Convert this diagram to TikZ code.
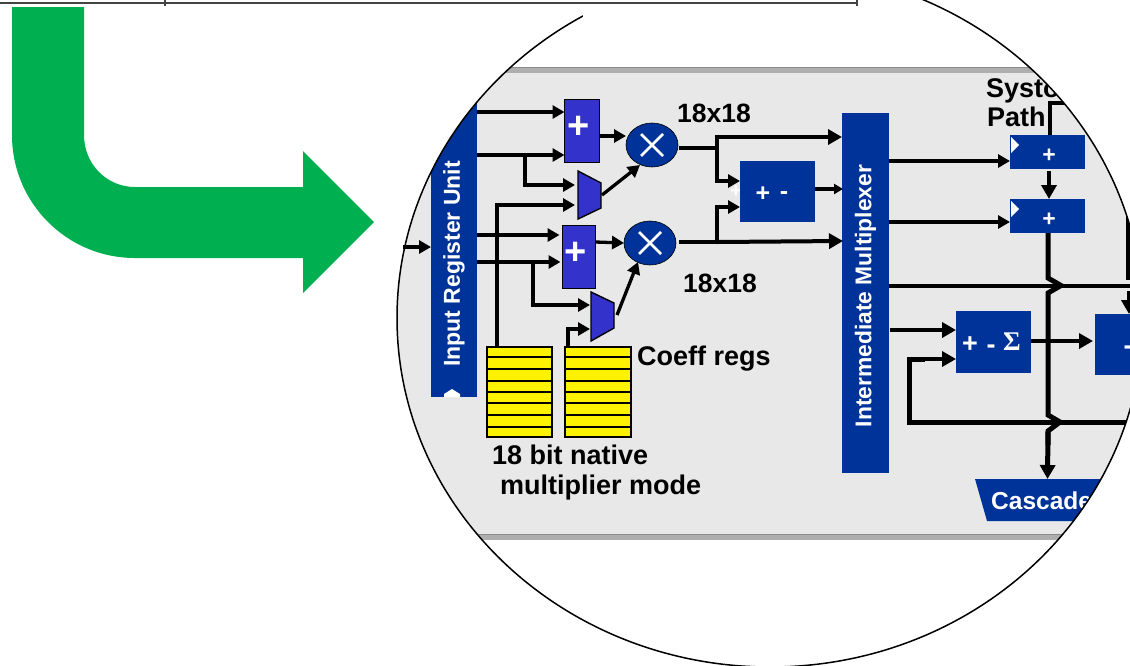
\documentclass[tikz,border=0pt]{standalone}
\usepackage{fontspec}
\setmainfont{Liberation Sans}
\newfontfamily\sigmafont{Liberation Serif}
\usetikzlibrary{arrows.meta,shapes.geometric,calc}
\definecolor{navy}{HTML}{003399}
\definecolor{addblue}{HTML}{3333CC}
\definecolor{regyellow}{HTML}{FFF200}
\definecolor{panelgray}{HTML}{E8E8E8}
\definecolor{bandgray}{HTML}{AEAEAE}
\definecolor{greenarrow}{HTML}{00B050}
\definecolor{topline}{HTML}{444444}
\newcommand{\fsz}[1]{\fontsize{#1}{#1}\selectfont\bfseries}
\tikzset{
  x=1pt,y=-1pt,
  box/.style={rectangle,anchor=north west,inner sep=0pt,outer sep=0pt,fill=navy,font=\fsz{18},text=white},
  addbox/.style={rectangle,anchor=north west,inner sep=0pt,outer sep=0pt,fill=addblue,draw=black,line width=1.6pt},
  pluslab/.style={anchor=center,inner sep=0pt,font=\fsz{38},text=white},
  oplab/.style={anchor=center,inner sep=0pt,font=\fsz{25},text=white},
  mulnode/.style={ellipse,inner sep=0pt,outer sep=0pt,fill=navy,draw=black,line width=0.6pt,minimum width=52pt,minimum height=44pt},
  trap/.style={fill=addblue,draw=black,line width=1.4pt,line join=miter},
  reg/.style={rectangle,anchor=north west,inner sep=0pt,outer sep=0pt,fill=regyellow,draw=black,line width=2pt},
  lab/.style={anchor=base west,inner sep=0pt,font=\fsz{27},text=black},
  vlab/.style={rotate=90,inner sep=0pt,font=\fsz{22.8},text=white},
  arr/.style={line width=3.3pt,-{Triangle[length=12pt,width=13pt]},line join=miter},
  arrb/.style={line width=4pt,-{Triangle[length=14pt,width=15pt]},line join=miter},
  wire/.style={line width=4pt,line join=miter},
  bus/.style={line width=5pt,line join=miter},
}
\begin{document}
\begin{tikzpicture}
\useasboundingbox (0,0) rectangle (1130,665);
% green bent arrow
\fill[greenarrow] (12,7) -- (84,7) -- (84,135) .. controls (84,163.7) and (106.3,187) .. (135,187) -- (303,187) -- (303,151) -- (374,222) -- (303,293) -- (303,258) -- (135,258) .. controls (67,258) and (12,203) .. (12,135) -- cycle;
% magnified circle
\begin{scope}
\clip (770,318) ellipse[x radius=373,y radius=349];
\fill[panelgray] (380,67) rectangle (1150,540);
\fill[bandgray] (380,67) rectangle (1150,73);
\draw[bandgray!80!black,line width=1pt] (380,67.5) -- (1150,67.5);
\fill[bandgray] (380,534) rectangle (1150,540);
\draw[bandgray!80!black,line width=1pt] (380,534.5) -- (1150,534.5);

% main blocks
\node[box,minimum width=46pt,minimum height=317pt] (iru) at (431,80) {};
\node[vlab,font=\fsz{23}] (irulab) at (454,264) {Input Register Unit};
\fill[white] (444,397) -- (444,394) -- (452,389) -- (460,394) -- (460,397) -- cycle;
\node[box,minimum width=47pt,minimum height=360pt] (imx) at (842,113) {};
\node[vlab] (imxlab) at (865.5,296) {Intermediate Multiplexer};

\node[anchor=center,inner sep=0pt,text=white,font=\fsz{20}] (ghost) at (736,192) {+};
\node[box,minimum width=75pt,minimum height=61pt] (addsub) at (740,161) {};
\node[oplab] (addsubp) at (763,194) {+};
\node[oplab] (addsubm) at (784,196) {-};

\node[addbox,minimum width=35pt,minimum height=63pt] (addA) at (564.5,99.5) {};
\node[pluslab] (addAp) at (579,127) {+};
\node[addbox,minimum width=33pt,minimum height=63pt] (addB) at (562.5,225.5) {};
\node[pluslab] (addBp) at (576,253) {+};
\node[mulnode] (mulA) at (652,145) {};
\node[mulnode] (mulB) at (650,243) {};
\foreach \m in {mulA,mulB}{
  \draw[white,line width=2.6pt] ($(\m)+(-11,-11)$) -- ($(\m)+(11,11)$);
  \draw[white,line width=2.6pt] ($(\m)+(-11,11)$) -- ($(\m)+(11,-11)$);
}
\coordinate (trAnw) at (578,171); \coordinate (trAne) at (601,183);
\coordinate (trAse) at (601,208); \coordinate (trAsw) at (578,219);
\coordinate (trBnw) at (591,292); \coordinate (trBne) at (614,303);
\coordinate (trBse) at (614,328); \coordinate (trBsw) at (591,341);
\draw[trap] (trAnw) -- (trAne) -- (trAse) -- (trAsw) -- cycle;
\draw[trap] (trBnw) -- (trBne) -- (trBse) -- (trBsw) -- cycle;

% coefficient registers
\node[reg,minimum width=65pt,minimum height=90pt] (regA) at (487,347) {};
\node[reg,minimum width=66pt,minimum height=90pt] (regB) at (565,347) {};
\foreach \r in {regA,regB}
  \foreach \yy in {357,369,381,392,403,415,427}
    \draw[line width=2pt] (\r.west |- 0,\yy) -- (\r.east |- 0,\yy);

% right blocks
\node[box,minimum width=75pt,minimum height=34pt] (sysA) at (1010,135) {};
\node[box,minimum width=75pt,minimum height=34pt] (sysB) at (1010,199) {};
\foreach \s in {sysA,sysB}{
  \fill[white] ($(\s.north west)+(1,2)$) -- ($(\s.north west)+(9,10)$) -- ($(\s.north west)+(1,18)$) -- cycle;
  \node[anchor=center,inner sep=0pt,text=white,font=\fsz{23}] at ($(\s.center)+(1.5,4)$) {+};
}
\node[box,minimum width=75pt,minimum height=62pt] (sum) at (956,311) {};
\node[oplab,font=\fsz{27}] (sump) at (970,345) {+};
\node[oplab,font=\fsz{27}] (summ) at (991,349) {-};
\node[oplab,font=\sigmafont\fsz{27}] (sums) at (1012,342) {Σ};
\node[box,minimum width=60pt,minimum height=61pt] (outb) at (1095,314) {};
\node[oplab,font=\fsz{27}] (outm) at (1128,350) {-};

\coordinate (casNW) at (975,479); \coordinate (casSW) at (987,521);
\fill[navy] (casNW) -- (casSW) -- (1150,521) -- (1150,479) -- cycle;
\node[lab,text=white,font=\fsz{24.5}] (cas) at (991,509) {Cascade};

% wires, left part
\draw[arr] (iru.east |- 0,112) -- (addA.west |- 0,112);
\draw[arr] (iru.east |- 0,155) -- (addA.west |- 0,155);
\coordinate (brA) at (525,155);
\draw[arr] (brA) -- (525,185) -- ($(trAnw |- 0,185)+(-3,0)$);
\draw[arr] (regA.north -| 497,0) -- (497,205) -- ($(trAnw |- 0,205)+(-3,0)$);
\draw[arr] (iru.east |- 0,235) -- ($(addB.west |- 0,235)+(-3,0)$);
\draw[arr] (iru.east |- 0,262) -- ($(addB.west |- 0,262)+(-2,0)$);
\coordinate (brB) at (533,262);
\draw[arr] (brB) -- (533,305) -- ($(trBnw |- 0,305)+(-1,0)$);
\draw[arr] (regB.north -| 568,0) -- (568,329) -- ($(trBnw |- 0,329)+(-1,0)$);
\draw[arr] (addA.east |- 0,136) -- (mulA.west |- 0,136);
\draw[arr] (addB.east |- 0,242) -- (mulB.west);
\draw[arr] (602,195) -- (640,165);
\draw[arr] (617,315) -- (638,262);

% wires, multiplier outputs
\coordinate (jA) at (717,148);
\coordinate (jB) at (717,242);
\draw[wire] (679,148) -- (jA);
\draw[wire] (679,242) -- (jB);
\draw[arrb] (jA) -- (717,137) -- (imx.west |- 0,137);
\draw[arr] (jA) -- (717,181) -- (addsub.west |- 0,181);
\draw[arr] (jB) -- (717,207) -- (addsub.west |- 0,207);
\draw[arrb] (jB) -- ($(imx.west |- 0,241)+(1,0)$);
\draw[line width=3.3pt,-{Triangle[length=9pt,width=10pt]}] (addsub.east |- 0,189) -- ($(imx.west |- 0,189)+(1,0)$);

% wires, right part
\draw[arr] (imx.east |- 0,161) -- (sysA.west |- 0,161);
\draw[arr] (imx.east |- 0,222) -- (sysB.west |- 0,222);
\draw[wire] (sysA.north -| 1050,0) -- (1050,103) -- (1150,103);
\draw[arrb] (1049,171) -- (sysB.north -| 1049,0);
\draw[bus] (sysB.south -| 1048,0) -- (1048,278) -- (1061,285.5) -- (1048,293) -- (1048,415) -- (1060,422) -- (1048,431) -- (1048,445);
\draw[bus,-{Triangle[length=14pt,width=15pt]}] (1048,431) -- (1047.5,479);
\draw[line width=4pt] (imx.east |- 0,286) -- (1150,286);
\draw[bus] (1150,422) -- (909,422) -- (909,359) -- (925,359);
\draw[arrb] (909,359) -- (sum.west |- 0,359);
\draw[arrb] (890,330) -- (sum.west |- 0,330);
\draw[arrb] (sum.east |- 0,341) -- ($(outb.west |- 0,341)+(-2,0)$);
\draw[bus] (1128,207) -- (1128,280);
\draw[arrb] (1129,291) -- (outb.north -| 1129,0);

% labels
\node[lab,font=\fsz{26.5}] (mA) at (677,122) {18x18};
\node[lab,font=\fsz{26.5}] (mB) at (683,292) {18x18};
\node[lab] (coeff) at (637,365) {Coeff regs};
\node[lab] (m1) at (492,464) {18 bit native};
\node[lab] (m2) at (500,494) {multiplier mode};
\node[lab] (sys1) at (986,97) {Systolic};
\node[lab] (sys2) at (987,126) {Path};
\end{scope}
% input arrow
\draw[arr] ($(iru.west |- 0,247)+(-28,0)$) -- (iru.west |- 0,247);
% circle outline
\draw[line width=1.5pt] (770,318) ellipse[x radius=373,y radius=349];
\fill[white] (583,-2) rectangle (880,18);
% top table edge
\coordinate (edgeL) at (0,2.5);
\coordinate (edgeR) at (857,2.5);
\draw[topline,line width=2pt] (edgeL) -- (edgeR);
\draw[topline,line width=1.2pt] (165,0) -- (165,6);
\draw[topline,line width=1.2pt] (857,0) -- (857,6);
\end{tikzpicture}
\end{document}
